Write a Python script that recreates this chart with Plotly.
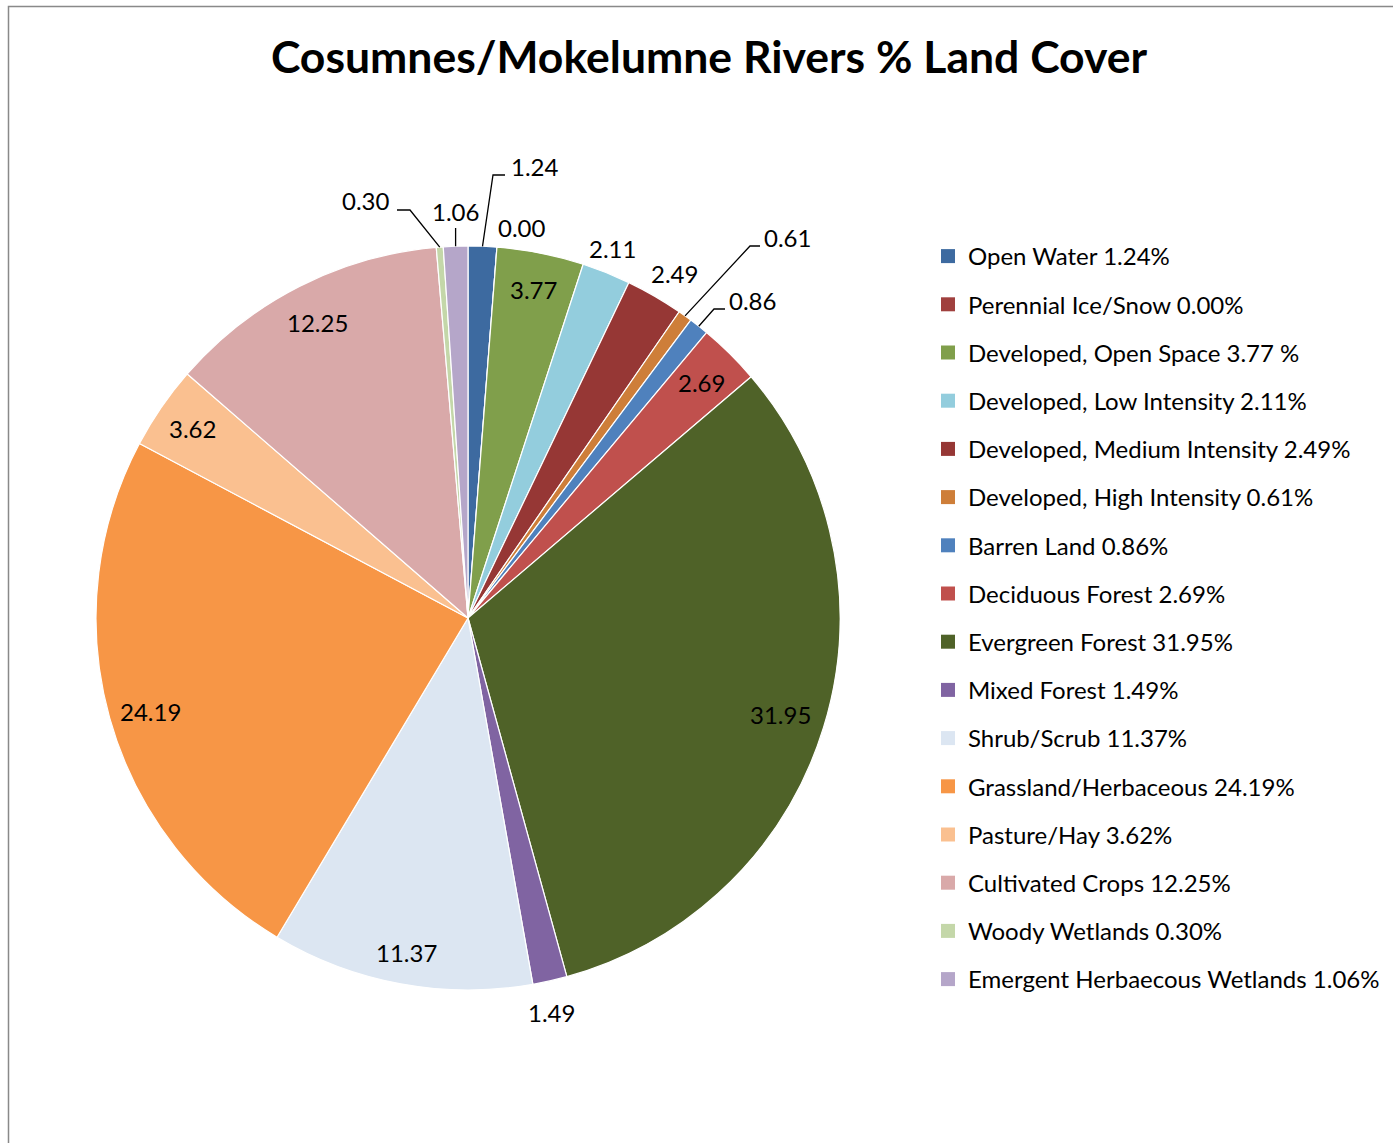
import math
import plotly.graph_objects as go

W, H = 1393, 1143

categories = [
    "Open Water", "Perennial Ice/Snow", "Developed, Open Space", "Developed, Low Intensity",
    "Developed, Medium Intensity", "Developed, High Intensity", "Barren Land", "Deciduous Forest",
    "Evergreen Forest", "Mixed Forest", "Shrub/Scrub", "Grassland/Herbaceous", "Pasture/Hay",
    "Cultivated Crops", "Woody Wetlands", "Emergent Herbaecous Wetlands",
]
values = [1.24, 0.00, 3.77, 2.11, 2.49, 0.61, 0.86, 2.69, 31.95, 1.49, 11.37, 24.19, 3.62, 12.25, 0.30, 1.06]
legend_labels = [
    "Open Water 1.24%", "Perennial Ice/Snow 0.00%", "Developed, Open Space 3.77 %",
    "Developed, Low Intensity 2.11%", "Developed, Medium Intensity 2.49%",
    "Developed, High Intensity 0.61%", "Barren Land 0.86%", "Deciduous Forest 2.69%",
    "Evergreen Forest 31.95%", "Mixed Forest 1.49%", "Shrub/Scrub 11.37%",
    "Grassland/Herbaceous 24.19%", "Pasture/Hay 3.62%", "Cultivated Crops 12.25%",
    "Woody Wetlands 0.30%", "Emergent Herbaecous Wetlands 1.06%",
]
colors = [
    "#3D6AA0", "#A0403E", "#809F4B", "#93CDDD", "#963735", "#CE7E39", "#4F81BD", "#C0504D",
    "#4F6228", "#8064A2", "#DCE6F2", "#F79646", "#FAC090", "#D9A9A9", "#C4D7A9", "#B5A6C9",
]

FONT = "Lato"
LABEL_SIZE = 24

# pie geometry (pixels)
CX, CY, R = 468, 618, 372


def px(x):
    return x / W


def py(y):
    return 1 - y / H


fig = go.Figure()
fig.add_trace(go.Pie(
    labels=categories, values=values, sort=False, direction="clockwise", rotation=0,
    marker=dict(colors=colors, line=dict(color="white", width=1.2)),
    textinfo="none", hoverinfo="label+value", showlegend=False,
    domain=dict(x=[px(CX - R), px(CX + R)], y=[py(CY + R), py(CY - R)]),
))

# legend entries
for i, (lab, col) in enumerate(zip(legend_labels, colors)):
    fig.add_trace(go.Scatter(
        x=[None], y=[None], mode="markers", name=lab, legendgroup=f"g{i}",
        marker=dict(symbol="square", size=14, color=col), showlegend=True,
    ))

total = sum(values)
cum = 0
mid = []
for v in values:
    mid.append((cum + v / 2) / total * 360.0)
    cum += v


def polar(angle_deg, rr):
    a = math.radians(angle_deg)
    return CX + rr * math.sin(a), CY - rr * math.cos(a)


# label placement styles: ("polar", radius factor, angle nudge) or ("callout", elbow, end, text pos, anchor)
placement = {
    0: ("callout", (493, 175), (505, 175), (509, 166), "left"),
    1: ("polar", 1.06, 3.4),
    2: ("polar", 0.90, 0),
    3: ("polar", 1.067, -0.5),
    4: ("polar", 1.08, 0.8),
    5: ("callout", (750, 246), (760, 246), (762, 237), "left"),
    6: ("callout", (714, 309), (725, 309), (727, 300), "left"),
    7: ("polar", 0.89, 0),
    8: ("polar", 0.88, 0),
    9: ("polar", 1.083, 0.7),
    10: ("polar", 0.915, 0),
    11: ("polar", 0.89, -0.8),
    12: ("polar", 0.90, 0),
    13: ("polar", 0.89, 0),
    14: ("callout", (410, 210), (397, 210), (392, 201), "right"),
    15: ("callout", (455.6, 228), (455.6, 228), (455, 211), "center"),
}

annotations = []
shapes = []
for i, v in enumerate(values):
    spec = placement[i]
    txt = f"{v:.2f}"
    if spec[0] == "polar":
        x, y = polar(mid[i] + spec[2], R * spec[1])
        annotations.append(dict(x=px(x), y=py(y), xref="paper", yref="paper", text=txt,
                                showarrow=False, xanchor="center", yanchor="middle",
                                font=dict(family=FONT, size=LABEL_SIZE, color="black")))
    else:
        _, elbow, end, tpos, anchor = spec
        sx, sy = polar(mid[i], R)
        path = f"M {px(sx)},{py(sy)} L {px(elbow[0])},{py(elbow[1])} L {px(end[0])},{py(end[1])}"
        shapes.append(dict(type="path", path=path, xref="paper", yref="paper",
                           line=dict(color="black", width=1.3)))
        annotations.append(dict(x=px(tpos[0]), y=py(tpos[1]), xref="paper", yref="paper", text=txt,
                                showarrow=False, xanchor=anchor, yanchor="middle",
                                font=dict(family=FONT, size=LABEL_SIZE, color="black")))

# outer chart border
shapes.append(dict(type="rect", xref="paper", yref="paper", x0=px(8.5), x1=1.05, y0=-0.05, y1=py(6.5),
                   line=dict(color="#898989", width=1.5), fillcolor="rgba(0,0,0,0)"))

fig.update_layout(
    width=W, height=H,
    margin=dict(l=0, r=0, t=0, b=0),
    paper_bgcolor="white", plot_bgcolor="white",
    title=dict(text="<b>Cosumnes/Mokelumne Rivers % Land Cover</b>", x=px(709), xanchor="center",
               y=py(57), yanchor="middle", font=dict(family=FONT, size=44.5, color="black")),
    xaxis=dict(visible=False, domain=[0.99, 1.0]),
    yaxis=dict(visible=False, domain=[0.99, 1.0]),
    legend=dict(x=px(928), xanchor="left", y=py(234), yanchor="top", traceorder="grouped",
                tracegroupgap=14, font=dict(family=FONT, size=LABEL_SIZE, color="black"),
                bgcolor="rgba(0,0,0,0)", itemsizing="trace"),
    annotations=annotations,
    shapes=shapes,
    showlegend=True,
)

fig.write_html("out.html", post_script="document.body.style.margin='0';",
               config={"displayModeBar": False})
